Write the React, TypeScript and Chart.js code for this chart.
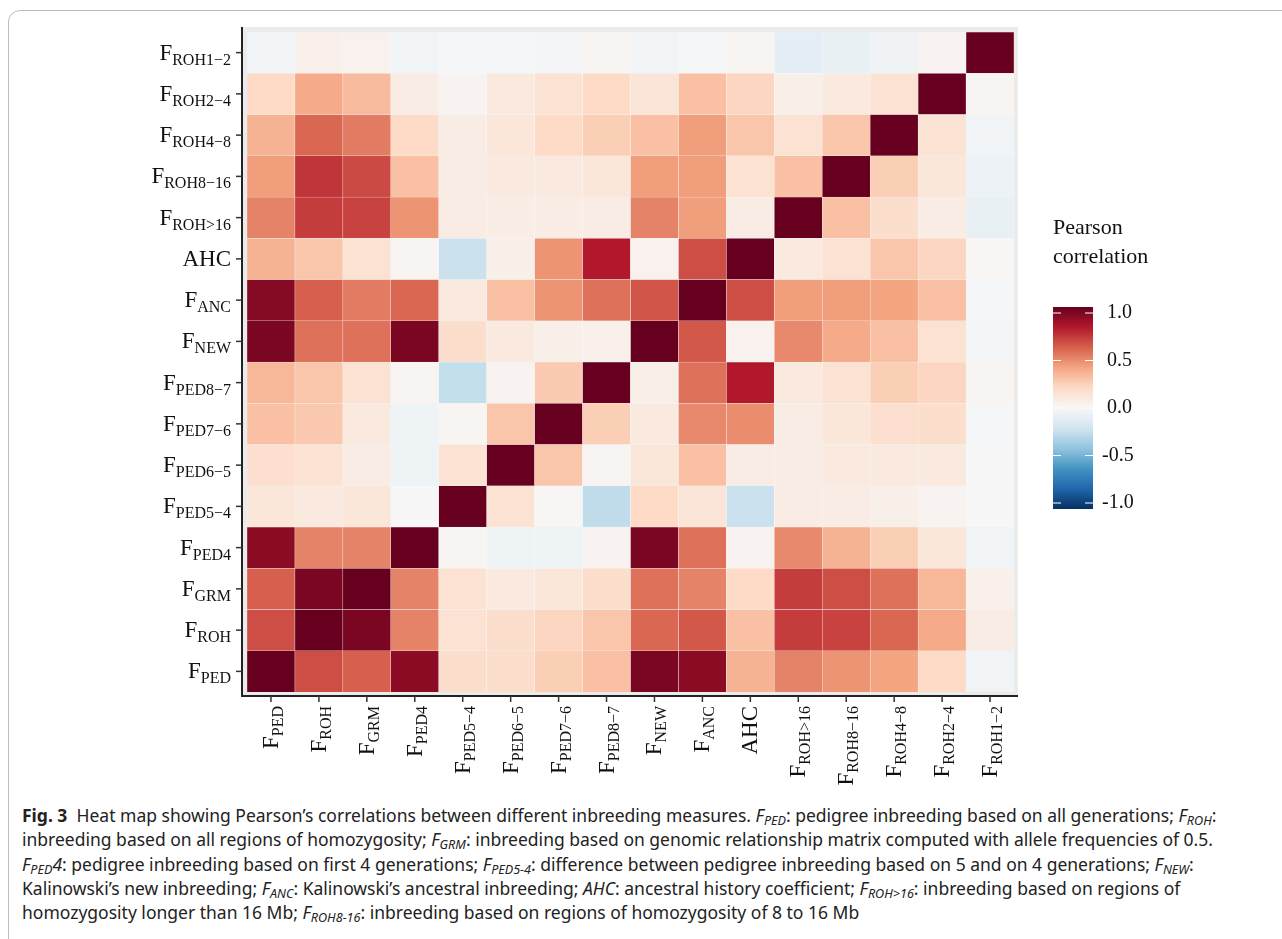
import { Chart, registerables } from 'chart.js';
import { useEffect, useRef } from 'react';

Chart.register(...registerables);

// [main, subscript] for each measure, bottom-to-top / left-to-right
const measures: [string, string][] = [
  ['F', 'PED'], ['F', 'ROH'], ['F', 'GRM'], ['F', 'PED4'],
  ['F', 'PED5−4'], ['F', 'PED6−5'], ['F', 'PED7−6'], ['F', 'PED8−7'],
  ['F', 'NEW'], ['F', 'ANC'], ['AHC', ''], ['F', 'ROH>16'],
  ['F', 'ROH8−16'], ['F', 'ROH4−8'], ['F', 'ROH2−4'], ['F', 'ROH1−2'],
];

const rowFPED = [1, 0.65, 0.6, 0.9, 0.18, 0.18, 0.25, 0.3, 0.95, 0.9, 0.35, 0.5, 0.45, 0.4, 0.2, -0.03];
const rowFROH = [0.65, 1, 0.95, 0.5, 0.15, 0.18, 0.22, 0.28, 0.58, 0.62, 0.3, 0.7, 0.68, 0.58, 0.38, 0.08];
const rowFGRM = [0.6, 0.95, 1, 0.5, 0.15, 0.1, 0.12, 0.18, 0.55, 0.5, 0.2, 0.7, 0.65, 0.55, 0.33, 0.05];
const rowFPED4 = [0.9, 0.5, 0.5, 1, 0.02, -0.05, -0.05, 0.03, 0.95, 0.55, 0.03, 0.48, 0.35, 0.25, 0.12, -0.03];
const rowP54 = [0.12, 0.1, 0.12, 0.0, 1, 0.15, 0.01, -0.25, 0.2, 0.13, -0.22, 0.08, 0.08, 0.06, 0.03, 0.0];
const rowP65 = [0.17, 0.15, 0.08, -0.05, 0.15, 1, 0.28, 0.02, 0.12, 0.3, 0.08, 0.08, 0.1, 0.1, 0.1, 0.0];
const rowP76 = [0.3, 0.27, 0.1, -0.05, 0.02, 0.28, 1, 0.25, 0.1, 0.48, 0.47, 0.08, 0.12, 0.17, 0.18, -0.01];
const rowP87 = [0.33, 0.28, 0.15, 0.02, -0.24, 0.03, 0.26, 1, 0.06, 0.55, 0.8, 0.1, 0.15, 0.25, 0.22, 0.02];
const rowNEW = [0.95, 0.55, 0.55, 0.95, 0.18, 0.1, 0.06, 0.05, 1, 0.62, 0.04, 0.48, 0.38, 0.3, 0.15, -0.02];
const rowANC = [0.92, 0.6, 0.52, 0.58, 0.1, 0.3, 0.45, 0.55, 0.63, 1, 0.65, 0.42, 0.42, 0.4, 0.3, -0.01];
const rowAHC = [0.35, 0.28, 0.15, 0.02, -0.22, 0.06, 0.45, 0.8, 0.04, 0.65, 1, 0.1, 0.15, 0.28, 0.22, 0.01];
const rowR16 = [0.5, 0.7, 0.68, 0.45, 0.08, 0.07, 0.07, 0.08, 0.5, 0.42, 0.08, 1, 0.3, 0.18, 0.07, -0.08];
const rowR816 = [0.42, 0.72, 0.66, 0.3, 0.08, 0.1, 0.1, 0.12, 0.42, 0.42, 0.15, 0.3, 1, 0.25, 0.12, -0.06];
const rowR48 = [0.35, 0.58, 0.52, 0.2, 0.08, 0.12, 0.2, 0.25, 0.3, 0.42, 0.28, 0.15, 0.28, 1, 0.15, -0.03];
const rowR24 = [0.2, 0.38, 0.32, 0.08, 0.03, 0.1, 0.15, 0.2, 0.13, 0.3, 0.22, 0.06, 0.1, 0.15, 1, 0.02];
const rowR12 = [-0.03, 0.05, 0.04, -0.03, -0.01, -0.01, -0.02, 0.02, -0.03, -0.01, 0.02, -0.1, -0.08, -0.04, 0.03, 1];

const rows = [rowFPED, rowFROH, rowFGRM, rowFPED4, rowP54, rowP65, rowP76, rowP87,
  rowNEW, rowANC, rowAHC, rowR16, rowR816, rowR48, rowR24, rowR12];

const legendTicks = [1, 0.5, 0, -0.5, -1];

// RdBu palette, from +1 down to -1 in steps of 0.2
const palette = ['#67001F', '#B2182B', '#D6604D', '#F4A582', '#FDDBC7', '#F7F7F7',
  '#D1E5F0', '#92C5DE', '#4393C3', '#2166AC', '#053061'];

function hex(h: string) {
  return [1, 3, 5].map((i) => parseInt(h.slice(i, i + 2), 16));
}

function colorFor(v: number) {
  const t = (1 - v) / 0.2;
  const i = Math.min(Math.floor(t), 9);
  const f = t - i;
  const a = hex(palette[i]);
  const b = hex(palette[i + 1]);
  const c = a.map((x, k) => Math.round(x + (b[k] - x) * f));
  return `rgb(${c[0]},${c[1]},${c[2]})`;
}

const SERIF = '"Liberation Serif", "DejaVu Serif", serif';

function labelWidth(ctx: CanvasRenderingContext2D, main: string, sub: string) {
  ctx.font = `23px ${SERIF}`;
  let w = ctx.measureText(main).width;
  ctx.font = `16px ${SERIF}`;
  w += ctx.measureText(sub).width;
  return w;
}

function drawLabel(ctx: CanvasRenderingContext2D, main: string, sub: string, x: number, y: number) {
  ctx.textAlign = 'left';
  ctx.textBaseline = 'alphabetic';
  ctx.fillStyle = '#111';
  ctx.font = `23px ${SERIF}`;
  ctx.fillText(main, x, y);
  const w = ctx.measureText(main).width;
  ctx.font = `16px ${SERIF}`;
  ctx.fillText(sub, x + w, y + 5);
}

const heatPlugin = {
  id: 'heatDecor',
  beforeDatasetsDraw(chart: any) {
    const ctx = chart.ctx as CanvasRenderingContext2D;
    const a = chart.chartArea;
    ctx.save();
    ctx.fillStyle = '#EBEBEB';
    ctx.fillRect(a.left - 5, a.top - 5, a.right - a.left + 9, a.bottom - a.top + 9);
    ctx.restore();
  },
  afterDraw(chart: any) {
    const ctx = chart.ctx as CanvasRenderingContext2D;
    const a = chart.chartArea;
    const xs = chart.scales.x;
    const ys = chart.scales.y;
    ctx.save();
    // axis lines
    ctx.strokeStyle = '#222';
    ctx.lineWidth = 2;
    ctx.beginPath();
    ctx.moveTo(a.left - 5, a.top - 5);
    ctx.lineTo(a.left - 5, a.bottom + 4);
    ctx.lineTo(a.right + 4, a.bottom + 4);
    ctx.stroke();
    measures.forEach(([main, sub], i) => {
      // y tick + label
      const yp = ys.getPixelForValue(i + 0.5);
      ctx.strokeStyle = '#333';
      ctx.lineWidth = 1.5;
      ctx.beginPath();
      ctx.moveTo(a.left - 11, yp);
      ctx.lineTo(a.left - 5, yp);
      ctx.stroke();
      const w = labelWidth(ctx, main, sub);
      drawLabel(ctx, main, sub, a.left - 16 - w, yp + 7);
      // x tick + rotated label
      const xp = xs.getPixelForValue(i);
      ctx.beginPath();
      ctx.moveTo(xp, a.bottom + 4);
      ctx.lineTo(xp, a.bottom + 10);
      ctx.stroke();
      ctx.save();
      ctx.translate(xp + 7, a.bottom + 14);
      ctx.rotate(-Math.PI / 2);
      drawLabel(ctx, main, sub, -w, 0);
      ctx.restore();
    });
    // legend
    ctx.fillStyle = '#111';
    ctx.font = `22px ${SERIF}`;
    ctx.textAlign = 'left';
    ctx.textBaseline = 'middle';
    ctx.fillText('Pearson', 1053, 228);
    ctx.fillText('correlation', 1053, 257);
    const top = 307, bot = 509, lx = 1053, lw = 40;
    const g = ctx.createLinearGradient(0, top, 0, bot);
    palette.forEach((c, k) => g.addColorStop(k / 10, c));
    ctx.fillStyle = g;
    ctx.fillRect(lx, top, lw, bot - top);
    ctx.font = `20px ${SERIF}`;
    legendTicks.forEach((v) => {
      const y = top + 6 + ((1 - v) / 2) * (bot - top - 12);
      ctx.strokeStyle = '#fff';
      ctx.lineWidth = 1;
      ctx.beginPath();
      ctx.moveTo(lx, y); ctx.lineTo(lx + 8, y);
      ctx.moveTo(lx + lw - 8, y); ctx.lineTo(lx + lw, y);
      ctx.stroke();
      ctx.fillStyle = '#111';
      ctx.fillText(v.toFixed(1), v < 0 ? 1102 : 1107, y);
    });
    ctx.restore();
  },
};

const subStyle = { fontSize: '0.72em', lineHeight: 0, verticalAlign: '-0.25em' };

const HeatMap = () => {
  const ref = useRef<HTMLCanvasElement | null>(null);
  useEffect(() => {
    if (!ref.current) return;
    const chart = new Chart(ref.current, {
      type: 'bar',
      data: {
        labels: measures.map((m) => m.join('')),
        datasets: rows.map((row) => ({
          data: row.map(() => 1),
          backgroundColor: row.map(colorFor),
          borderColor: 'rgba(255,255,255,0.6)',
          borderWidth: 0.5,
          barPercentage: 1,
          categoryPercentage: 1,
        })),
      },
      options: {
        responsive: false,
        animation: false,
        layout: { padding: { left: 247, top: 32, right: 268, bottom: 108 } },
        plugins: { legend: { display: false }, tooltip: { enabled: false } },
        scales: {
          x: { stacked: true, display: false },
          y: { stacked: true, display: false, min: 0, max: 16 },
        },
      },
      plugins: [heatPlugin],
    });
    return () => chart.destroy();
  }, []);

  const S = (t: string) => <sub style={subStyle}>{t}</sub>;

  return (
    <div style={{ position: 'absolute', left: 0, top: 0, width: 1282, height: 939, overflow: 'hidden', background: '#fff' }}>
      <div style={{ position: 'absolute', left: 8, top: 10, width: 1300, height: 960, border: '1px solid #bdbdbd', borderRadius: 12 }} />
      <canvas ref={ref} width={1282} height={800} style={{ position: 'absolute', left: 0, top: 0 }} />
      <div style={{ position: 'absolute', left: 22, top: 803, width: 1260, fontFamily: '"Noto Sans", "Open Sans", sans-serif', fontSize: 17.5, lineHeight: '24.3px', color: '#222', whiteSpace: 'nowrap' }}>
        <b>Fig. 3</b>&nbsp; Heat map showing Pearson’s correlations between different inbreeding measures. <i>F{S('PED')}</i>: pedigree inbreeding based on all generations; <i>F{S('ROH')}</i>:<br />
        inbreeding based on all regions of homozygosity; <i>F{S('GRM')}</i>: inbreeding based on genomic relationship matrix computed with allele frequencies of 0.5.<br />
        <i>F{S('PED')}4</i>: pedigree inbreeding based on first 4 generations; <i>F{S('PED5−4')}</i>: difference between pedigree inbreeding based on 5 and on 4 generations; <i>F{S('NEW')}</i>:<br />
        Kalinowski’s new inbreeding; <i>F{S('ANC')}</i>: Kalinowski’s ancestral inbreeding; <i>AHC</i>: ancestral history coefficient; <i>F{S('ROH>16')}</i>: inbreeding based on regions of<br />
        homozygosity longer than 16 Mb; <i>F{S('ROH8−16')}</i>: inbreeding based on regions of homozygosity of 8 to 16 Mb
      </div>
    </div>
  );
};

export default function App() {
  return <HeatMap />;
}
